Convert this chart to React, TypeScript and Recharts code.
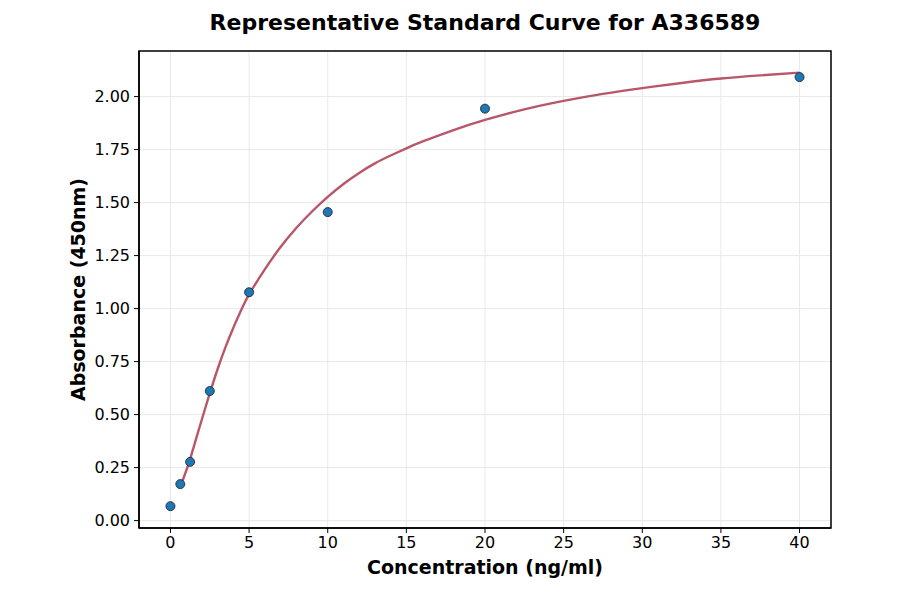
import React from "react";
import {
  ComposedChart,
  Line,
  Scatter,
  XAxis,
  YAxis,
  CartesianGrid,
  Label,
  ReferenceArea,
} from "recharts";

const TITLE = "Representative Standard Curve for A336589";
const X_LABEL = "Concentration (ng/ml)";
const Y_LABEL = "Absorbance (450nm)";

const pointX = [0, 0.625, 1.25, 2.5, 5, 10, 20, 40];
const pointY = [0.068, 0.172, 0.277, 0.611, 1.077, 1.455, 1.943, 2.092];

const curveX = [
  0.625, 1.0, 1.25, 1.6, 2.0, 2.5, 3.0, 3.5, 4.0, 4.5, 5.0, 6.0, 7.0, 8.0, 9.0,
  10, 11, 12, 13, 14, 15, 16, 18, 20, 22.5, 25, 27.5, 30, 32.5, 35, 37.5, 40,
];
const curveY = [
  0.158, 0.235, 0.29, 0.378, 0.478, 0.6, 0.715, 0.818, 0.91, 0.993, 1.067,
  1.185, 1.29, 1.38, 1.458, 1.527, 1.588, 1.64, 1.685, 1.722, 1.756, 1.787,
  1.842, 1.89, 1.94, 1.98, 2.013, 2.04, 2.064, 2.085, 2.1, 2.113,
];

const xTicks = [0, 5, 10, 15, 20, 25, 30, 35, 40];
const yTicks = [0, 0.25, 0.5, 0.75, 1.0, 1.25, 1.5, 1.75, 2.0];

const X_DOMAIN: [number, number] = [-2, 42];
const Y_DOMAIN: [number, number] = [-0.035, 2.215];

const points = pointX.map((x, i) => ({ x, y: pointY[i] }));
const curve = curveX.map((x, i) => ({ x, y: curveY[i] }));

const FONT = "'DejaVu Sans', sans-serif";

const Dot = (props: any) => {
  const { cx, cy } = props;
  if (cx == null || cy == null) return null;
  return (
    <circle cx={cx} cy={cy} r={4.5} fill="#1f77b4" stroke="#1c2b3a" strokeWidth={0.9} />
  );
};

export default function App() {
  return (
    <div
      style={{
        position: "absolute",
        left: 0,
        top: 0,
        width: 900,
        height: 594,
        background: "#fff",
        fontFamily: FONT,
      }}
    >
      <ComposedChart
        width={900}
        height={594}
        margin={{ top: 51, right: 69, bottom: 36, left: 79 }}
        style={{ position: "absolute", left: 0, top: 0 }}
      >
        <CartesianGrid xAxisId="b" yAxisId="l" stroke="#e6e6e6" strokeWidth={0.9} />
        <XAxis
          xAxisId="b"
          type="number"
          dataKey="x"
          domain={X_DOMAIN}
          ticks={xTicks}
          allowDataOverflow
          height={30}
          axisLine={{ stroke: "#000", strokeWidth: 1.5 }}
          tickLine={{ stroke: "#000", strokeWidth: 1 }}
          tickSize={5}
          tickMargin={4}
          tick={{ fill: "#000", fontSize: 16, fontFamily: FONT }}
        >
          <Label
            value={X_LABEL}
            position="bottom"
            offset={3}
            style={{ fontSize: 19, fontWeight: "bold", fill: "#000", fontFamily: FONT }}
          />
        </XAxis>
        <YAxis
          yAxisId="l"
          type="number"
          domain={Y_DOMAIN}
          ticks={yTicks}
          allowDataOverflow
          width={60}
          axisLine={{ stroke: "#000", strokeWidth: 1.5 }}
          tickLine={{ stroke: "#000", strokeWidth: 1 }}
          tickSize={5}
          tickMargin={4}
          tickFormatter={(v: number) => v.toFixed(2)}
          tick={{ fill: "#000", fontSize: 16, fontFamily: FONT }}
        >
          <Label
            value={Y_LABEL}
            angle={-90}
            position="insideLeft"
            offset={-1}
            style={{
              fontSize: 19,
              fontWeight: "bold",
              fill: "#000",
              fontFamily: FONT,
              textAnchor: "middle",
            }}
          />
        </YAxis>
        <ReferenceArea
          xAxisId="b"
          yAxisId="l"
          x1={X_DOMAIN[0]}
          x2={X_DOMAIN[1]}
          y1={Y_DOMAIN[0]}
          y2={Y_DOMAIN[1]}
          fill="none"
          fillOpacity={0}
          stroke="#000"
          strokeWidth={1.5}
          ifOverflow="visible"
        />
        <Line
          xAxisId="b"
          yAxisId="l"
          data={curve}
          dataKey="y"
          type="natural"
          stroke="#b8566a"
          strokeWidth={2.4}
          dot={false}
          activeDot={false}
          isAnimationActive={false}
        />
        <Scatter
          xAxisId="b"
          yAxisId="l"
          data={points}
          dataKey="y"
          shape={<Dot />}
          isAnimationActive={false}
        />
      </ComposedChart>
      <div
        style={{
          position: "absolute",
          left: 0,
          top: 10,
          width: 970,
          textAlign: "center",
          fontSize: 22,
          fontWeight: "bold",
          color: "#000",
          fontFamily: FONT,
          lineHeight: "26px",
        }}
      >
        {TITLE}
      </div>
    </div>
  );
}
